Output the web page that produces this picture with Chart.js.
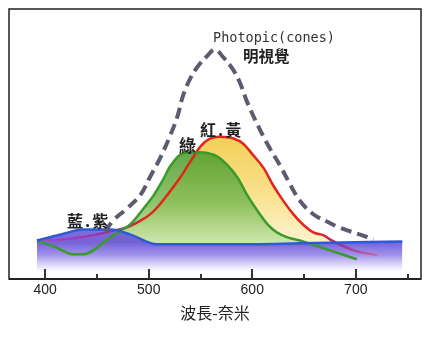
<!DOCTYPE html>
<html>
<head>
<meta charset="utf-8">
<script src="https://cdn.jsdelivr.net/npm/chart.js@4/dist/chart.umd.min.js"></script>
<style>
  body { margin: 0; background: #fff; }
  #wrap { position: relative; width: 432px; height: 337px; }
  .lbl { position: absolute; line-height: 1; white-space: nowrap; color: #222; }
  .cjk { font-family: "Noto Sans CJK TC", "Noto Sans CJK SC", sans-serif; font-weight: bold; }
</style>
</head>
<body>
<div id="wrap">
  <canvas id="chart" width="432" height="337"></canvas>
  <div class="lbl" style="left:213px;top:31px;font-size:13.5px;font-family:'DejaVu Sans Mono',monospace;color:#333">Photopic(cones)</div>
  <div class="lbl cjk" style="left:243px;top:48px;font-size:15.5px">明視覺</div>
  <div class="lbl cjk" style="left:200px;top:121px;font-size:16px;letter-spacing:2px">紅.黃</div>
  <div class="lbl cjk" style="left:179px;top:136px;font-size:17px">綠</div>
  <div class="lbl cjk" style="left:67px;top:212px;font-size:16px;letter-spacing:2px">藍.紫</div>
</div>
<script>
// wavelength (nm) / relative sensitivity
const photopicNm  = [458, 466, 479, 492, 501, 511, 521, 528, 533, 540, 547, 557, 564, 572, 581, 588, 595, 608, 617, 627, 637, 646, 659, 673, 685, 707, 717];
const photopicVal = [6, 12, 18, 25, 34, 44, 56, 66, 76, 85, 91, 97, 100, 96, 90, 83, 73, 58, 49, 40, 30, 22, 15, 11, 8, 4, 2];

const redNm  = [392, 417, 450, 466, 479, 492, 501, 509, 518, 530, 540, 550, 559, 569, 582, 591, 601, 611, 620, 630, 640, 649, 659, 669, 675, 698, 721];
const redVal = [1.5, 2, 4.6, 6.6, 8.2, 11.7, 14.8, 19, 25, 33.7, 42, 50, 54, 55, 54.1, 51.5, 45.4, 38.8, 30.1, 21.9, 14.8, 9.7, 5.6, 4.1, 2, -3.6, -6.1];

const greenNm  = [392, 410, 427, 437, 463, 473, 482, 495, 505, 514, 521, 533, 547, 553, 566, 576, 586, 595, 605, 615, 624, 634, 646, 675, 701];
const greenVal = [1.5, -2, -5.6, -5.6, 3.1, 6.6, 9.7, 18, 25, 33, 40, 46.5, 47, 46.9, 44.9, 40.3, 33.7, 25, 16.8, 9.7, 5.6, 3.1, 1.5, -3.6, -8.2];

const blueNm  = [392, 415, 437, 463, 482, 508, 579, 646, 745];
const blueVal = [1.5, 4.6, 7.1, 7.1, 4.6, -0.5, -0.5, 0, 1];

const tickValues = [400, 450, 500, 550, 600, 650, 700, 750];
const tickLabels = [400, 500, 600, 700];

const xTitle = '波長-奈米';

function zip(xs, ys) {
    return xs.map((x, i) => ({ x: x, y: ys[i] }));
}

// vertical gradient, stops given in data values
function vGrad(chart, stops, fallback) {
    const area = chart.chartArea;
    const y = chart.scales.y;
    if (!area || !y) return fallback;
    const g = chart.ctx.createLinearGradient(0, area.top, 0, area.bottom);
    stops.forEach(([v, c]) => {
        const t = (y.getPixelForValue(v) - area.top) / (area.bottom - area.top);
        g.addColorStop(Math.min(1, Math.max(0, t)), c);
    });
    return g;
}

// horizontal gradient, stops given in nm
function hGrad(chart, stops, fallback) {
    const area = chart.chartArea;
    const x = chart.scales.x;
    if (!area || !x) return fallback;
    const g = chart.ctx.createLinearGradient(area.left, 0, area.right, 0);
    stops.forEach(([v, c]) => {
        const t = (x.getPixelForValue(v) - area.left) / (area.right - area.left);
        g.addColorStop(Math.min(1, Math.max(0, t)), c);
    });
    return g;
}

const framePlugin = {
    id: 'frame',
    afterDraw(chart) {
        const { ctx, chartArea: a } = chart;
        const x = chart.scales.x;
        ctx.save();
        ctx.strokeStyle = '#222';
        ctx.lineWidth = 1.5;
        ctx.strokeRect(a.left, a.top, a.right - a.left, a.bottom - a.top);
        ctx.lineWidth = 2.2;
        ctx.beginPath();
        ctx.moveTo(a.left, a.bottom);
        ctx.lineTo(a.right, a.bottom);
        ctx.stroke();
        ctx.lineWidth = 2;
        ctx.strokeStyle = '#333';
        tickValues.forEach(v => {
            const px = Math.round(x.getPixelForValue(v));
            const len = tickLabels.includes(v) ? 10 : 5;
            ctx.beginPath();
            ctx.moveTo(px, a.bottom);
            ctx.lineTo(px, a.bottom - len);
            ctx.stroke();
        });
        ctx.restore();
    }
};

new Chart(document.getElementById('chart').getContext('2d'), {
    type: 'line',
    data: {
        datasets: [
            {
                label: 'Photopic(cones)',
                data: zip(photopicNm, photopicVal),
                order: 0,
                borderColor: '#5e5a70',
                borderWidth: 4,
                borderDash: [11, 6],
                fill: false,
                pointRadius: 0,
                tension: 0.4
            },
            {
                label: '藍.紫',
                data: zip(blueNm, blueVal),
                order: 1,
                borderColor: '#2d5bd6',
                borderWidth: 2.5,
                backgroundColor: (c) => vGrad(c.chart, [
                    [8, 'rgba(105,85,215,0.85)'],
                    [0, 'rgba(95,75,212,0.85)'],
                    [-6, 'rgba(120,100,225,0.7)'],
                    [-11, 'rgba(165,150,238,0.4)'],
                    [-16, 'rgba(255,255,255,0)']
                ], 'rgba(110,90,220,0.6)'),
                fill: 'start',
                pointRadius: 0,
                cubicInterpolationMode: 'monotone'
            },
            {
                label: '綠',
                data: zip(greenNm, greenVal),
                order: 2,
                borderColor: '#3a9a2c',
                borderWidth: 2.5,
                backgroundColor: (c) => vGrad(c.chart, [
                    [47, 'rgba(78,156,46,0.88)'],
                    [20, 'rgba(120,185,80,0.82)'],
                    [0, 'rgba(195,228,165,0.8)']
                ], 'rgba(90,165,60,0.8)'),
                fill: { target: 'origin', below: 'rgba(0,0,0,0)' },
                pointRadius: 0,
                cubicInterpolationMode: 'monotone'
            },
            {
                label: '紅.黃',
                data: zip(redNm, redVal),
                order: 3,
                borderColor: (c) => hGrad(c.chart, [
                    [392, '#9a4fd0'],
                    [465, '#9a30a8'],
                    [495, '#e0261a'],
                    [662, '#e0261a'],
                    [685, '#a03090'],
                    [721, '#c070b0']
                ], '#e0261a'),
                borderWidth: 2.5,
                backgroundColor: (c) => vGrad(c.chart, [
                    [54, 'rgba(243,205,80,0.95)'],
                    [25, 'rgba(248,222,130,0.9)'],
                    [0, 'rgba(253,242,205,0.9)']
                ], 'rgba(245,210,100,0.9)'),
                fill: { target: 'origin', below: 'rgba(0,0,0,0)' },
                pointRadius: 0,
                cubicInterpolationMode: 'monotone'
            }
        ]
    },
    options: {
        responsive: false,
        animation: false,
        layout: { padding: { left: 9, right: 11, top: 9, bottom: 14 } },
        scales: {
            x: {
                type: 'linear',
                min: 365,
                max: 763,
                afterBuildTicks: (scale) => { scale.ticks = tickValues.map(v => ({ value: v })); },
                grid: { display: false, drawTicks: false },
                border: { display: false },
                ticks: {
                    autoSkip: false,
                    maxRotation: 0,
                    padding: 3,
                    color: '#222',
                    font: { family: "'Liberation Sans', Arial, sans-serif", size: 14 },
                    callback: (v) => tickLabels.includes(v) ? String(v) : ''
                },
                title: {
                    display: true,
                    text: xTitle,
                    color: '#222',
                    padding: { top: 2, bottom: 0 },
                    font: { family: "'Noto Sans CJK TC', sans-serif", size: 16 }
                }
            },
            y: {
                display: false,
                min: -18.4,
                max: 120.9
            }
        },
        plugins: {
            legend: { display: false },
            tooltip: { enabled: false },
            filler: { drawTime: 'beforeDatasetsDraw' }
        }
    },
    plugins: [framePlugin]
});
</script>
</body>
</html>
